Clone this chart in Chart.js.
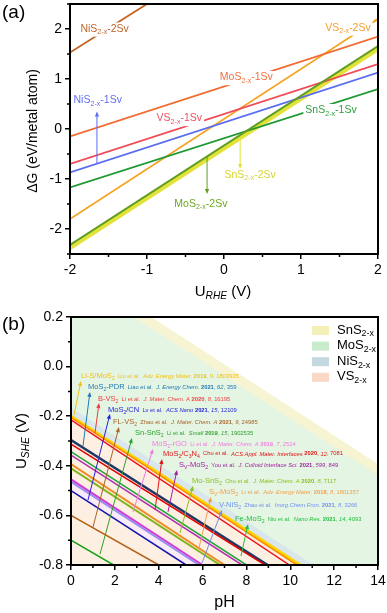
<!DOCTYPE html>
<html>
<head>
<meta charset="utf-8">
<script src="https://cdn.jsdelivr.net/npm/chart.js@4.4.1/dist/chart.umd.min.js"></script>
<style>
  html, body { margin: 0; padding: 0; background: #fff; }
  #wrap { position: relative; width: 387px; height: 613px; }
  canvas { position: absolute; left: 0; }
  #ca { top: 0; }
  #cb { top: 306px; }
</style>
</head>
<body>
<div id="wrap">
  <canvas id="ca" width="387" height="306"></canvas>
  <canvas id="cb" width="387" height="307"></canvas>
</div>
<script>
const FONT = 'Arial, "Liberation Sans", sans-serif';

// ---------- panel (a): dG vs U_RHE ----------
const uRange = [-2, 2];
const aNames = ['NiS_{2-x}-2Sv', 'MoS_{2-x}-1Sv', 'VS_{2-x}-1Sv', 'NiS_{2-x}-1Sv', 'SnS_{2-x}-1Sv', 'VS_{2-x}-2Sv', 'SnS_{2-x}-2Sv', 'MoS_{2-x}-2Sv'];
const aStart = [1.53, -0.15, -0.70, -0.87, -1.17, -1.80, -2.38, -2.32];   // dG at U = -2
const aEnd = [5.41, 1.85, 1.30, 1.13, 0.80, 2.20, 1.60, 1.66];            // dG at U = 2
const aColors = ['#c4621f', '#f26a2e', '#f04a57', '#5a6cf0', '#1f9a33', '#f6a323', '#e3e23a', '#5f9e1d'];
const aTextColors = ['#c0642a', '#f07040', '#f05060', '#6070f0', '#30a040', '#f0a030', '#d6d630', '#6aaa20'];
const aWidths = [1.8, 1.8, 1.8, 1.8, 1.8, 1.8, 4, 2];
const aLabelU = [-1.55, 0.29, -0.58, -1.64, 1.39, 1.61, 0.34, -0.30];
const aLabelG = [2.0, 1.03, 0.21, 0.57, 0.37, 2.02, -0.92, -1.50];
// pointer arrows: [series, U, from dG, to dG]
const aArrows = [[3, -1.65, -0.69, 0.35], [6, 0.21, -0.17, -0.80], [7, -0.22, -0.56, -1.30]];

// ---------- panel (b): U_SHE vs pH ----------
const lineStart = [-0.200, -0.205, -0.215, -0.296, -0.313, -0.343, -0.357, -0.393, -0.410, -0.455, -0.465, -0.500, -0.600, -0.700]; // V at pH 0
const lineEndPH = [10.45, 10.30, 9.96, 8.97, 8.85, 8.00, 7.80, 7.00, 6.80, 6.00, 5.85, 5.25, 4.00, 1.94];                          // pH at -0.8 V
const lineColors = ['#ffd400', '#ff8a00', '#e8141c', '#1f3864', '#e00000', '#1fa53a', '#b02fb0', '#f08a24', '#7fb41e', '#d23cd2', '#9a8cf0', '#1414b0', '#b45f14', '#18a018'];
const lineWidths = [3, 1.5, 1.5, 2.5, 1.5, 1.5, 1.5, 2, 2, 2, 2, 1.5, 1.5, 1.5];

const refNames = ['Li-S/MoS_{2}', 'MoS_{2}-PDR', 'B-VS_{2}', 'MoS_{2}/CN', 'FL-VS_{2}', 'Sn-SnS_{2}', 'MoS_{2}-rGO', 'MoS_{2}/C_{3}N_{4}', 'S_{V}-MoS_{2}', 'Mo-SnS_{2}', 'S_{V}-MoS_{2}', 'V-NiS_{2}', 'Fe-MoS_{2}'];
const refAuthors = ['Liu et al.', 'Liao et al.', 'Li et al.', 'Lv et al.', 'Zhao et al.', 'Li et al.', 'Li et al.', 'Chu et al.', 'You et al.', 'Chu et al.', 'Li et al.', 'Zhao et al.', 'Niu et al.'];
const refJournals = ['Adv. Energy Mater.', 'J. Energy Chem.', 'J. Mater. Chem. A', 'ACS Nano', 'J. Mater. Chem. A', 'Small', 'J. Mater. Chem. A', 'ACS Appl. Mater. Interfaces', 'J. Colloid Interface Sci.', 'J. Mater. Chem. A', 'Adv. Energy Mater.', 'Inorg.Chem.Fron.', 'Nano Res.'];
const refYears = ['2019', '2021', '2020', '2021', '2021', '2019', '2019', '2020', '2021', '2020', '2018', '2021', '2021'];
const refVols = ['9', '62', '8', '15', '9', '15', '7', '12', '599', '8', '8', '8', '14'];
const refPages = ['1803935', '359', '16195', '12109', '24985', '1902535', '2524', '7081', '849', '7117', '1801357', '3266', '4093'];
const refColors = ['#f2c018', '#1f78b4', '#f03c3c', '#2424d8', '#a8632a', '#2ca02c', '#f27ae0', '#e01414', '#a020a0', '#86c020', '#f0a050', '#6f8ff0', '#22c040'];
const refLabelPH = [0.456, 0.775, 1.231, 1.687, 1.915, 2.918, 3.694, 4.195, 4.925, 5.518, 6.293, 6.749, 7.478];
const refLabelV = [-0.038, -0.082, -0.131, -0.175, -0.223, -0.268, -0.312, -0.352, -0.397, -0.461, -0.506, -0.558, -0.615];
const refArrowFrom = [[0.137, -0.195], [0.547, -0.320], [1.094, -0.268], [0.775, -0.538], [1.003, -0.647], [1.322, -0.756], [2.827, -0.586], [3.830, -0.578], [4.423, -0.586], [4.970, -0.671], [5.837, -0.731], [5.974, -0.792], [7.752, -0.764]];
const refArrowTo = [[0.456, -0.058], [0.866, -0.102], [1.277, -0.147], [1.778, -0.191], [2.189, -0.244], [2.782, -0.288], [3.739, -0.332], [4.150, -0.373], [4.834, -0.417], [5.563, -0.481], [6.384, -0.526], [6.886, -0.578], [8.071, -0.635]];

// shaded stability regions, boundary lines given at pH 0 and pH 14
const pHSpan = [0, 14];
const snBandLow = [0.365, -0.438];
const snBandHigh = [0.41, -0.393];
const niBandTop = [-0.165, -0.969];
const vsBandTop = [-0.200, -1.004];
const lavBandTop = [-0.452, -1.26];
const lavBandLow = [-0.50, -1.30];
const regionNames = ['SnS_{2-x}', 'MoS_{2-x}', 'NiS_{2-x}', 'VS_{2-x}'];
const regionSwatch = ['#f3f0b8', '#c8eccb', '#c4d8e0', '#fad9c6'];

// ---------- text helpers ----------
function parseRich(s, size, extra) {
  const out = [];
  const re = /_\{([^}]*)\}/g;
  let last = 0, m;
  while ((m = re.exec(s))) {
    if (m.index > last) out.push(Object.assign({ t: s.slice(last, m.index), size }, extra));
    out.push(Object.assign({ t: m[1], size, sub: true }, extra));
    last = re.lastIndex;
  }
  if (last < s.length) out.push(Object.assign({ t: s.slice(last), size }, extra));
  return out;
}
function fontOf(s) {
  const sz = s.sub ? s.size * 0.68 : s.size;
  return (s.i ? 'italic ' : '') + (s.b ? 'bold ' : '') + sz.toFixed(2) + 'px ' + FONT;
}
function richWidth(ctx, segs) {
  let w = 0;
  segs.forEach(s => { ctx.font = fontOf(s); w += ctx.measureText(s.t).width; });
  return w;
}
function drawRich(ctx, segs, x, y, color, align, bg) {
  const w = richWidth(ctx, segs);
  let cx = align === 'center' ? x - w / 2 : align === 'right' ? x - w : x;
  ctx.save();
  if (bg) {
    ctx.fillStyle = bg;
    const h = segs[0].size;
    ctx.fillRect(cx - 2, y - h * 0.62, w + 4, h * 1.35);
  }
  ctx.fillStyle = color;
  ctx.textBaseline = 'middle';
  ctx.textAlign = 'left';
  segs.forEach(s => {
    ctx.font = fontOf(s);
    ctx.fillText(s.t, cx, y + (s.sub ? s.size * 0.3 : 0));
    cx += ctx.measureText(s.t).width;
  });
  ctx.restore();
  return w;
}
function arrow(ctx, x1, y1, x2, y2, color, head) {
  const a = Math.atan2(y2 - y1, x2 - x1);
  const c = Math.cos(a), s = Math.sin(a);
  ctx.save();
  ctx.strokeStyle = color;
  ctx.fillStyle = color;
  ctx.lineWidth = 1;
  ctx.beginPath();
  ctx.moveTo(x1, y1);
  ctx.lineTo(x2 - c * head * 0.8, y2 - s * head * 0.8);
  ctx.stroke();
  ctx.beginPath();
  ctx.moveTo(x2, y2);
  ctx.lineTo(x2 - head * c + head * 0.42 * s, y2 - head * s - head * 0.42 * c);
  ctx.lineTo(x2 - head * c - head * 0.42 * s, y2 - head * s + head * 0.42 * c);
  ctx.closePath();
  ctx.fill();
  ctx.restore();
}

function axisScale(min, max, ticks, fmt, fitSize, horizontal) {
  return {
    type: 'linear', min, max,
    afterBuildTicks: s => { s.ticks = ticks.map(v => ({ value: v })); },
    afterFit: s => {
      if (horizontal) s.height = fitSize; else s.width = fitSize;
      s.paddingTop = 0; s.paddingBottom = 0; s.paddingLeft = 0; s.paddingRight = 0;
    },
    ticks: { color: '#000', font: { size: 14, family: FONT }, padding: 3, maxRotation: 0, autoSkip: false, callback: fmt },
    grid: { display: true, drawOnChartArea: false, drawTicks: true, tickLength: 5, color: '#000', lineWidth: 1.5 },
    border: { display: true, color: '#000', width: 2 }
  };
}

function frameAndMinor(chart, xMinor, yMinor) {
  const { ctx, chartArea: ca, scales: { x, y } } = chart;
  ctx.save();
  ctx.strokeStyle = '#000';
  ctx.lineWidth = 1.5;
  ctx.beginPath();
  xMinor.forEach(v => { const p = x.getPixelForValue(v); ctx.moveTo(p, ca.bottom); ctx.lineTo(p, ca.bottom + 3); });
  yMinor.forEach(v => { const p = y.getPixelForValue(v); ctx.moveTo(ca.left, p); ctx.lineTo(ca.left - 3, p); });
  ctx.stroke();
  ctx.lineWidth = 2;
  ctx.strokeRect(ca.left, ca.top, ca.right - ca.left, ca.bottom - ca.top);
  ctx.restore();
}

Chart.defaults.font.family = FONT;
Chart.defaults.animation = false;
Chart.defaults.elements.point.radius = 0;
Chart.defaults.elements.line.tension = 0;

// ---------- chart (a) ----------
const aDatasets = aNames.map((n, i) => ({
  label: n,
  data: [{ x: uRange[0], y: aStart[i] }, { x: uRange[1], y: aEnd[i] }],
  borderColor: aColors[i],
  borderWidth: aWidths[i],
  fill: false,
  order: i === 6 ? 3 : i === 7 ? 1 : 2
}));

const panelA = {
  id: 'panelA',
  afterDatasetsDraw(chart) {
    const { ctx, scales: { x, y } } = chart;
    aArrows.forEach(([k, u, g1, g2]) => {
      arrow(ctx, x.getPixelForValue(u), y.getPixelForValue(g1), x.getPixelForValue(u), y.getPixelForValue(g2), aColors[k], 5);
    });
    aNames.forEach((n, i) => {
      drawRich(ctx, parseRich(n, 10.5), x.getPixelForValue(aLabelU[i]), y.getPixelForValue(aLabelG[i]), aTextColors[i], 'center', '#fff');
    });
    // arrow tip at the end of VS2-x-2Sv
    const k = 5;
    arrow(ctx, x.getPixelForValue(1.93), y.getPixelForValue(aEnd[k] - 0.07), x.getPixelForValue(uRange[1]), y.getPixelForValue(aEnd[k]), aColors[k], 4);
  },
  afterDraw(chart) {
    const { ctx, chartArea: ca } = chart;
    frameAndMinor(chart, [-1.5, -0.5, 0.5, 1.5], [-2.5, -1.5, -0.5, 0.5, 1.5, 2.5]);
    drawRich(ctx, [{ t: '(a)', size: 19 }], 2, 13, '#000', 'left');
    drawRich(ctx, [{ t: 'U', size: 15 }, { t: 'RHE', size: 15, sub: true, i: true }, { t: ' (V)', size: 15 }], (ca.left + ca.right) / 2 - 1, 292, '#000', 'center');
    ctx.save();
    ctx.translate(33, (ca.top + ca.bottom) / 2 + 2);
    ctx.rotate(-Math.PI / 2);
    drawRich(ctx, [{ t: '\u0394G (eV/metal atom)', size: 14 }], 0, 0, '#000', 'center');
    ctx.restore();
  }
};

new Chart(document.getElementById('ca').getContext('2d'), {
  type: 'line',
  data: { datasets: aDatasets },
  options: {
    responsive: false,
    devicePixelRatio: 1,
    events: [],
    layout: { padding: { left: 0, right: 9, top: 4, bottom: 0 } },
    plugins: { legend: { display: false }, tooltip: { enabled: false } },
    scales: {
      x: axisScale(-2, 2, [-2, -1, 0, 1, 2], v => String(v), 52, true),
      y: axisScale(-2.5, 2.5, [-2, -1, 0, 1, 2], v => String(v), 70, false)
    }
  },
  plugins: [panelA]
});

// ---------- chart (b) ----------
function region(vals, fill, color, order) {
  return {
    data: [{ x: pHSpan[0], y: vals[0] }, { x: pHSpan[1], y: vals[1] }],
    borderWidth: 0, borderColor: 'rgba(0,0,0,0)', backgroundColor: color, fill, order
  };
}
const bDatasets = [
  region([0.2, 0.2], 'start', '#e5f5e3', 100),
  region(snBandLow, 'end', '#f6f4d2', 99),
  region(snBandHigh, 'end', '#ffffff', 98),
  region(niBandTop, 'start', '#d9e6ec', 97),
  region(vsBandTop, 'start', '#fdf0e3', 96),
  region(lavBandTop, 'start', '#f9ecf6', 95),
  region(lavBandLow, 'start', '#fdf0e3', 94)
];
lineStart.forEach((v, i) => {
  bDatasets.push({
    data: [{ x: 0, y: v }, { x: lineEndPH[i], y: -0.8 }],
    borderColor: lineColors[i], borderWidth: lineWidths[i], fill: false,
    order: i === 0 ? 30 : i === 3 ? 29 : 20 - i
  });
});

const panelB = {
  id: 'panelB',
  afterDatasetsDraw(chart) {
    const { ctx, chartArea: ca, scales: { x, y } } = chart;
    refNames.forEach((n, i) => {
      const c = refColors[i];
      arrow(ctx, x.getPixelForValue(refArrowFrom[i][0]), y.getPixelForValue(refArrowFrom[i][1]),
        x.getPixelForValue(refArrowTo[i][0]), y.getPixelForValue(refArrowTo[i][1]), c, 5);
      const segs = parseRich(n, 7.5).concat([
        { t: '  ' + refAuthors[i] + '  ', size: 5.8 },
        { t: refJournals[i] + ' ', size: 5.8, i: true },
        { t: refYears[i], size: 5.8, b: true },
        { t: ', ', size: 5.8 },
        { t: refVols[i], size: 5.8, i: true },
        { t: ', ' + refPages[i], size: 5.8 }
      ]);
      drawRich(ctx, segs, x.getPixelForValue(refLabelPH[i]), y.getPixelForValue(refLabelV[i]), c, 'left');
    });
    // legend of shaded regions
    regionNames.forEach((n, i) => {
      const yy = ca.top + 13 + i * 15.6;
      ctx.fillStyle = regionSwatch[i];
      ctx.fillRect(ca.right - 66, yy - 4, 17, 9);
      drawRich(ctx, parseRich(n, 13), ca.right - 41, yy, '#000', 'left');
    });
  },
  afterDraw(chart) {
    const { ctx, chartArea: ca } = chart;
    frameAndMinor(chart, [1, 3, 5, 7, 9, 11, 13], [0.1, -0.1, -0.3, -0.5, -0.7]);
    drawRich(ctx, [{ t: '(b)', size: 19 }], 2, 19, '#000', 'left');
    drawRich(ctx, [{ t: 'pH', size: 16 }], (ca.left + ca.right) / 2, 297, '#000', 'center');
    ctx.save();
    ctx.translate(22, 135);
    ctx.rotate(-Math.PI / 2);
    drawRich(ctx, [{ t: 'U', size: 15 }, { t: 'SHE', size: 15, sub: true, i: true }, { t: ' (V)', size: 15 }], 0, 0, '#000', 'center');
    ctx.restore();
  }
};

new Chart(document.getElementById('cb').getContext('2d'), {
  type: 'line',
  data: { datasets: bDatasets },
  options: {
    responsive: false,
    devicePixelRatio: 1,
    events: [],
    layout: { padding: { left: 0, right: 9, top: 11, bottom: 0 } },
    plugins: { legend: { display: false }, tooltip: { enabled: false } },
    scales: {
      x: axisScale(0, 14, [0, 2, 4, 6, 8, 10, 12, 14], v => String(v), 48, true),
      y: axisScale(-0.8, 0.2, [0.2, 0, -0.2, -0.4, -0.6, -0.8], v => v.toFixed(1), 71, false)
    }
  },
  plugins: [panelB]
});
</script>
</body>
</html>
